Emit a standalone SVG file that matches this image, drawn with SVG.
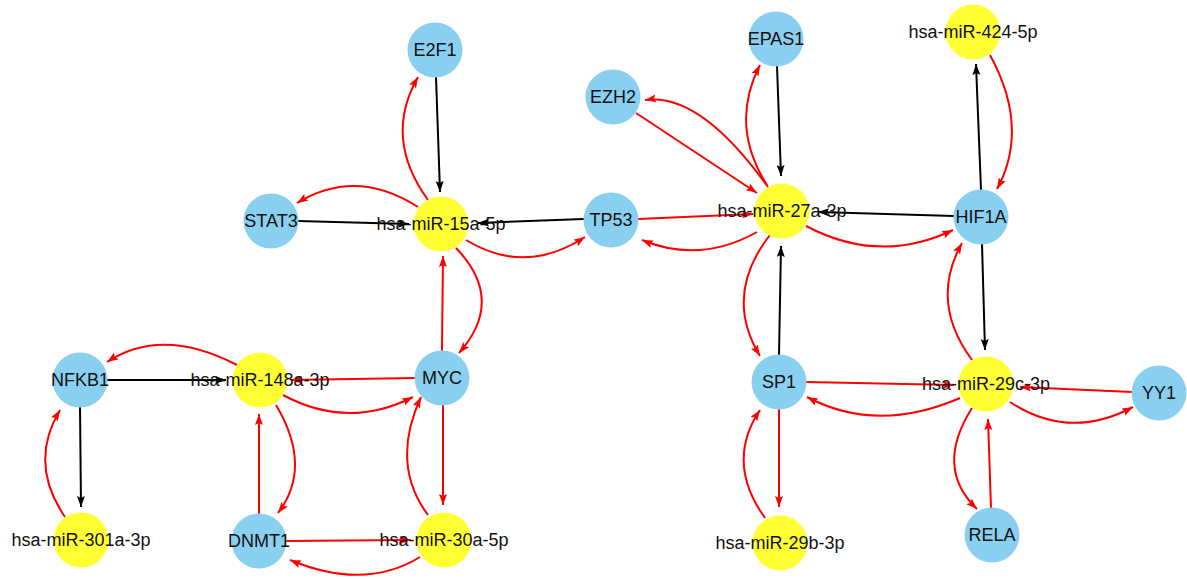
<svg xmlns="http://www.w3.org/2000/svg" width="1187" height="579" viewBox="0 0 1187 579">
<style>
.e{fill:none;stroke-width:2}
.k{stroke:#000}
.r{stroke:#ff0000}
.k{marker-end:url(#ak)}
.r{marker-end:url(#ar)}
.g circle{fill:#89cff0}
.m circle{fill:#ffff33}
text{font-family:"Liberation Sans",Arial,sans-serif;font-size:18px;fill:#111;text-anchor:middle}
</style>
<defs>
<marker id="ak" viewBox="0 0 11 8" refX="11" refY="4" markerWidth="11" markerHeight="8" markerUnits="userSpaceOnUse" orient="auto"><path d="M0,0 L11,4 L0,8 L2,4 z" fill="#000"/></marker>
<marker id="ar" viewBox="0 0 11 8" refX="11" refY="4" markerWidth="11" markerHeight="8" markerUnits="userSpaceOnUse" orient="auto"><path d="M0,0 L11,4 L0,8 L2,4 z" fill="#ff0000"/></marker>
</defs>
<rect width="1187" height="579" fill="#fff"/>
<g id="connectors">
<!-- black straight -->
<path class="e k" d="M436,77 L440,192"/>
<path class="e k" d="M298,221 L409,224"/>
<path class="e k" d="M584,219 L478,223"/>
<path class="e k" d="M777,66 L781,176"/>
<path class="e k" d="M954,216 L818,212"/>
<path class="e k" d="M779,355 L781,246"/>
<path class="e k" d="M981,190 L976,64"/>
<path class="e k" d="M982,244 L985,350"/>
<path class="e k" d="M107,380 L226,380"/>
<path class="e k" d="M80,407 L81,507"/>
<!-- red straight -->
<path class="e r" d="M442,351 L443,256"/>
<path class="e r" d="M638,219 L753,214"/>
<path class="e r" d="M636,113 L757,193"/>
<path class="e r" d="M806,382 L954,385"/>
<path class="e r" d="M1132,392 L1020,387"/>
<path class="e r" d="M991,508 L988,419"/>
<path class="e r" d="M779,409 L779,507"/>
<path class="e r" d="M415,378 L291,380"/>
<path class="e r" d="M259,514 L259,414"/>
<path class="e r" d="M443,405 L443,505"/>
<path class="e r" d="M286,541 L411,540"/>
<!-- red curved -->
<path class="e r" d="M428,200 Q383,138 418,77"/>
<path class="e r" d="M418,207 Q356,167 297,203"/>
<path class="e r" d="M466,240 Q525,276 585,237"/>
<path class="e r" d="M456,248 Q506,300 459,353"/>
<path class="e r" d="M768,187 Q700,92 645,100"/>
<path class="e r" d="M767,185 Q729,125 760,65"/>
<path class="e r" d="M757,232 Q700,264 642,240"/>
<path class="e r" d="M806,226 Q880,265 953,230"/>
<path class="e r" d="M770,235 Q723,295 760,356"/>
<path class="e r" d="M990,55 Q1030,128 997,189"/>
<path class="e r" d="M972,360 Q929,302 962,243"/>
<path class="e r" d="M960,398 Q877,434 807,397"/>
<path class="e r" d="M1010,402 Q1069,441 1133,407"/>
<path class="e r" d="M972,408 Q934,468 977,509"/>
<path class="e r" d="M765,518 Q725,462 760,410"/>
<path class="e r" d="M237,365 Q162,326 107,362"/>
<path class="e r" d="M283,395 Q348,430 413,397"/>
<path class="e r" d="M276,405 Q313,467 278,513"/>
<path class="e r" d="M428,515 Q390,464 421,397"/>
<path class="e r" d="M65,517 Q28,463 60,410"/>
<path class="e r" d="M420,557 Q365,591 290,560"/>
</g>
<g id="E2F1" class="g"><circle cx="435" cy="50" r="27.5"/><text x="435" y="56">E2F1</text></g>
<g id="STAT3" class="g"><circle cx="271" cy="221" r="27.5"/><text x="271" y="227">STAT3</text></g>
<g id="TP53" class="g"><circle cx="611" cy="220" r="27.5"/><text x="611" y="226">TP53</text></g>
<g id="EZH2" class="g"><circle cx="613" cy="97" r="27.5"/><text x="613" y="103">EZH2</text></g>
<g id="EPAS1" class="g"><circle cx="776" cy="39" r="27.5"/><text x="776" y="45">EPAS1</text></g>
<g id="HIF1A" class="g"><circle cx="981" cy="217" r="27.5"/><text x="981" y="223">HIF1A</text></g>
<g id="NFKB1" class="g"><circle cx="80" cy="380" r="27.5"/><text x="80" y="386">NFKB1</text></g>
<g id="MYC" class="g"><circle cx="442" cy="378" r="27.5"/><text x="442" y="384">MYC</text></g>
<g id="DNMT1" class="g"><circle cx="259" cy="541" r="27.5"/><text x="259" y="547">DNMT1</text></g>
<g id="SP1" class="g"><circle cx="779" cy="382" r="27.5"/><text x="779" y="388">SP1</text></g>
<g id="YY1" class="g"><circle cx="1159" cy="393" r="27.5"/><text x="1159" y="399">YY1</text></g>
<g id="RELA" class="g"><circle cx="992" cy="535" r="27.5"/><text x="992" y="541">RELA</text></g>
<g id="hsa-miR-15a-5p" class="m"><circle cx="441" cy="224" r="27.5"/><text x="441" y="230">hsa-miR-15a-5p</text></g>
<g id="hsa-miR-27a-3p" class="m"><circle cx="782" cy="211" r="27.5"/><text x="782" y="217">hsa-miR-27a-3p</text></g>
<g id="hsa-miR-424-5p" class="m"><circle cx="973" cy="32" r="27.5"/><text x="973" y="38">hsa-miR-424-5p</text></g>
<g id="hsa-miR-148a-3p" class="m"><circle cx="260" cy="380" r="27.5"/><text x="260" y="386">hsa-miR-148a-3p</text></g>
<g id="hsa-miR-301a-3p" class="m"><circle cx="81" cy="540" r="27.5"/><text x="81" y="546">hsa-miR-301a-3p</text></g>
<g id="hsa-miR-30a-5p" class="m"><circle cx="444" cy="540" r="27.5"/><text x="444" y="546">hsa-miR-30a-5p</text></g>
<g id="hsa-miR-29c-3p" class="m"><circle cx="986" cy="384" r="27.5"/><text x="986" y="390">hsa-miR-29c-3p</text></g>
<g id="hsa-miR-29b-3p" class="m"><circle cx="780" cy="543" r="27.5"/><text x="780" y="549">hsa-miR-29b-3p</text></g>
</svg>
